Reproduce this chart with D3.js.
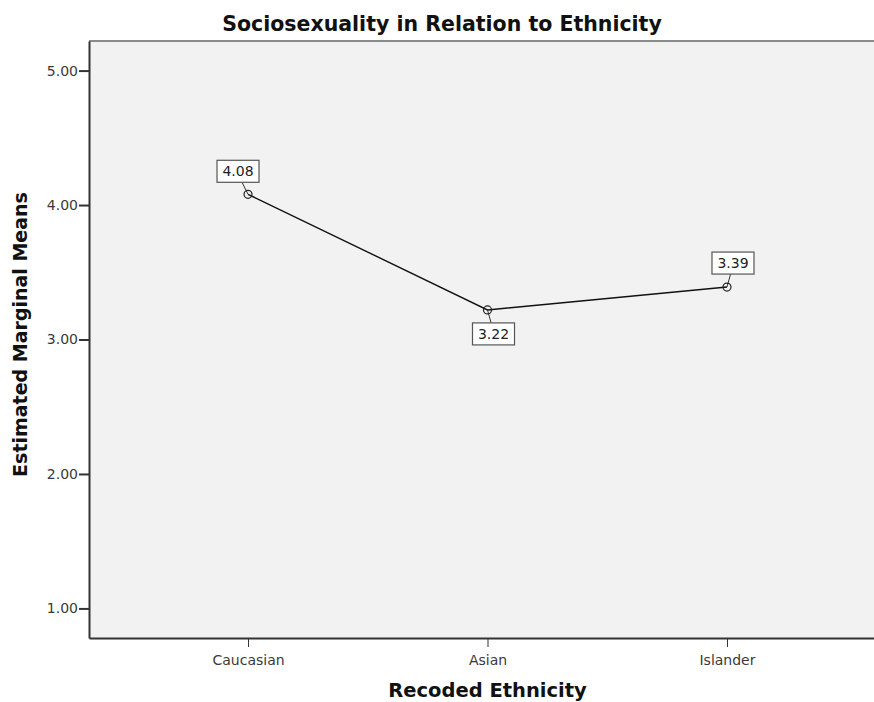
<!DOCTYPE html>
<html>
<head>
<meta charset="utf-8">
<script src="https://cdn.jsdelivr.net/npm/d3@7"></script>
<style>
  body { margin: 0; background: #fff; }
  .axis text { font: 14px "DejaVu Sans", sans-serif; fill: #3a3a3a; }
  .axis path, .axis line { stroke: #333; }
</style>
</head>
<body>
<svg class="chart" width="874" height="702"></svg>
<script>
var categories = ["Caucasian", "Asian", "Islander"];
var means = [4.08, 3.22, 3.39];
var yTicks = [1, 2, 3, 4, 5];
// label box offsets from the point, like SPSS places them
var labelOffsets = [[-10, -23], [6, 24], [6, -24]];

var svg = d3.select(".chart"),
    margin = {top: 41, right: 0, bottom: 64, left: 89},
    width = 874 - margin.left - margin.right,
    height = 702 - margin.top - margin.bottom;

var x = d3.scalePoint().domain(categories).range([0, 797]).padding(0.664),
    y = d3.scaleLinear().domain([0.78, 5.22]).range([height, 0]);

var data = categories.map(function(c, i) { return {cat: c, mean: means[i], off: labelOffsets[i]}; });

var g = svg.append("g").attr("transform", "translate(" + margin.left + "," + margin.top + ")");

g.append("rect")
    .attr("width", width)
    .attr("height", height)
    .attr("fill", "#f2f2f2");

g.append("line")
    .attr("x1", 0).attr("x2", width)
    .attr("y1", 0).attr("y2", 0)
    .attr("stroke", "#8a8a8a")
    .attr("stroke-width", 2);

g.append("g")
    .attr("class", "axis")
    .attr("transform", "translate(0," + height + ")")
    .call(d3.axisBottom(x).tickSize(9).tickSizeOuter(0))
    .call(function(a) {
      a.select(".domain").attr("stroke-width", 2);
      a.selectAll("text").attr("dy", "1.1em");
    });

g.append("g")
    .attr("class", "axis")
    .call(d3.axisLeft(y).tickValues(yTicks).tickFormat(d3.format(".2f")).tickSize(10).tickSizeOuter(0))
    .call(function(a) {
      a.select(".domain").attr("stroke-width", 2);
      a.selectAll(".tick line").attr("stroke-width", 2);
      a.selectAll("text").attr("x", -11);
    });

var line = d3.line()
    .x(function(d) { return x(d.cat); })
    .y(function(d) { return y(d.mean); });

g.append("path")
    .datum(data)
    .attr("d", line)
    .attr("fill", "none")
    .attr("stroke", "#111")
    .attr("stroke-width", 1.4);

var lab = g.selectAll(".lab")
  .data(data)
  .enter().append("g")
    .attr("class", "lab");

lab.append("line")
    .attr("x1", function(d) { return x(d.cat); })
    .attr("y1", function(d) { return y(d.mean); })
    .attr("x2", function(d) { return x(d.cat) + d.off[0] * 0.6; })
    .attr("y2", function(d) { return y(d.mean) + d.off[1] - Math.sign(d.off[1]) * 11; })
    .attr("stroke", "#333")
    .attr("stroke-width", 1);

lab.append("rect")
    .attr("x", function(d) { return x(d.cat) + d.off[0] - 21; })
    .attr("y", function(d) { return y(d.mean) + d.off[1] - 11; })
    .attr("width", 42)
    .attr("height", 22)
    .attr("fill", "#fff")
    .attr("stroke", "#555")
    .attr("stroke-width", 1.2);

lab.append("text")
    .attr("x", function(d) { return x(d.cat) + d.off[0]; })
    .attr("y", function(d) { return y(d.mean) + d.off[1]; })
    .attr("dy", "0.36em")
    .attr("text-anchor", "middle")
    .style("font", "14px 'DejaVu Sans', sans-serif")
    .attr("fill", "#222")
    .text(function(d) { return d.mean.toFixed(2); });

g.selectAll(".pt")
  .data(data)
  .enter().append("circle")
    .attr("class", "pt")
    .attr("cx", function(d) { return x(d.cat); })
    .attr("cy", function(d) { return y(d.mean); })
    .attr("r", 4)
    .attr("fill", "none")
    .attr("stroke", "#222")
    .attr("stroke-width", 1.2);

svg.append("text")
    .attr("x", 442)
    .attr("y", 31)
    .attr("text-anchor", "middle")
    .style("font", "bold 20.5px 'DejaVu Sans', sans-serif")
    .attr("fill", "#111")
    .text("Sociosexuality in Relation to Ethnicity");

svg.append("text")
    .attr("x", margin.left + x("Asian"))
    .attr("y", 697)
    .attr("text-anchor", "middle")
    .style("font", "bold 19.5px 'DejaVu Sans', sans-serif")
    .attr("fill", "#111")
    .text("Recoded Ethnicity");

svg.append("text")
    .attr("transform", "translate(27," + (margin.top + height / 2 - 5) + ") rotate(-90)")
    .attr("text-anchor", "middle")
    .style("font", "bold 19px 'DejaVu Sans', sans-serif")
    .attr("fill", "#111")
    .text("Estimated Marginal Means");
</script>
</body>
</html>
